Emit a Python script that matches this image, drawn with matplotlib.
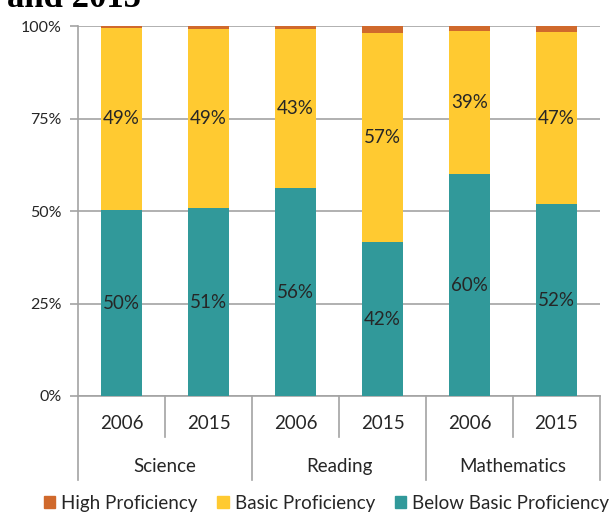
import matplotlib
matplotlib.use("Agg")
import matplotlib.pyplot as plt
from matplotlib.patches import Patch
from matplotlib.transforms import blended_transform_factory

# Share of students by proficiency level (%), per subject and survey year
subjects = ["Science", "Reading", "Mathematics"]
years = ["2006", "2015"]
below_basic = [50.2, 50.7, 56.1, 41.6, 59.9, 51.8]
basic = [49.4, 48.6, 43.0, 56.6, 38.9, 46.6]
high = [0.4, 0.7, 0.9, 1.8, 1.2, 1.6]
series_names = ["High Proficiency", "Basic Proficiency", "Below Basic Proficiency"]
y_ticks = [0, 25, 50, 75, 100]

c_high = "#D0692C"
c_basic = "#FFCA31"
c_below = "#31999A"
grid_c = "#A3A3A3"
text_c = "#262626"

plt.rcParams["font.family"] = ["Lato", "DejaVu Sans"]

fig = plt.figure(figsize=(6.16, 5.12), dpi=100)
ax = fig.add_axes([0.1266, 0.2266, 0.8474, 0.7224])

x = list(range(len(below_basic)))
w = 0.48
ax.bar(x, below_basic, width=w, color=c_below, zorder=3)
ax.bar(x, basic, width=w, bottom=below_basic, color=c_basic, zorder=3)
tops = [b + m for b, m in zip(below_basic, basic)]
ax.bar(x, high, width=w, bottom=tops, color=c_high, zorder=3)

# Segment labels at the middle of each segment
for xi, b, m in zip(x, below_basic, basic):
    ax.text(xi, b / 2, f"{b:.0f}%", ha="center", va="center",
            fontsize=13.5, color=text_c, zorder=4)
    ax.text(xi, b + m / 2, f"{m:.0f}%", ha="center", va="center",
            fontsize=13.5, color=text_c, zorder=4)

ax.set_xlim(-0.5, len(x) - 0.5)
ax.set_ylim(0, 100)
ax.set_yticks(y_ticks)
ax.set_yticklabels([f"{t}%" for t in y_ticks], fontsize=11.5, color=text_c)
ax.yaxis.grid(True, color=grid_c, linewidth=1.2, zorder=0)
ax.set_axisbelow(True)
ax.tick_params(axis="y", length=6, width=1.2, color=grid_c, pad=6)
ax.set_xticks([])
for side in ("top", "right"):
    ax.spines[side].set_visible(False)
for side in ("left", "bottom"):
    ax.spines[side].set_color(grid_c)
    ax.spines[side].set_linewidth(1.2)

# Two-level category axis: years above subjects, with separators
trans = blended_transform_factory(ax.transData, ax.transAxes)
short_y, long_y = -0.112, -0.228
for i in range(len(x) + 1):
    xb = i - 0.5
    yb = long_y if i % 2 == 0 else short_y
    ax.plot([xb, xb], [0, yb], color=grid_c, linewidth=1.2,
            transform=trans, clip_on=False)
for i, xi in enumerate(x):
    ax.text(xi, -0.075, years[i % 2], transform=trans, ha="center",
            va="center", fontsize=13.5, color=text_c)
for j, s in enumerate(subjects):
    ax.text(2 * j + 0.5, -0.19, s, transform=trans, ha="center",
            va="center", fontsize=13.5, color=text_c)

handles = [Patch(color=c_high), Patch(color=c_basic), Patch(color=c_below)]
fig.legend(handles, series_names, loc="center", bbox_to_anchor=(0.530, 0.0175),
           ncol=3, frameon=False, fontsize=13.5, handlelength=0.6,
           handleheight=0.6, handletextpad=0.32, columnspacing=1.05,
           labelcolor=text_c, borderpad=0, borderaxespad=0)

fig.text(0.012, 0.986, "and 2015", fontfamily="Liberation Serif",
         fontweight="bold", fontsize=25, va="baseline", ha="left")

fig.savefig("out.png", dpi=100)
